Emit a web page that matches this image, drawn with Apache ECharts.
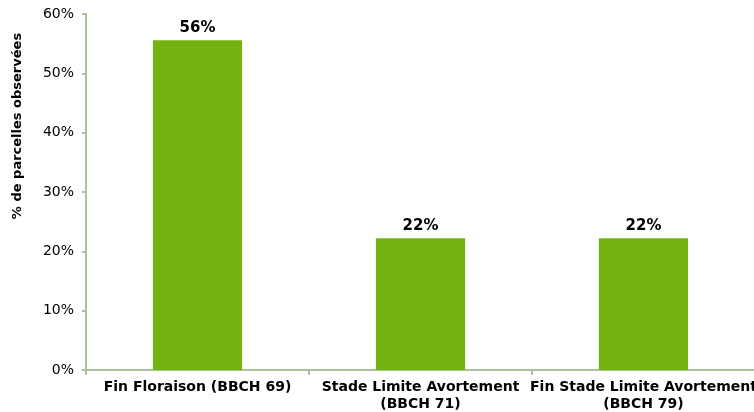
<!DOCTYPE html>
<html><head><meta charset="utf-8">
<script src="https://cdn.jsdelivr.net/npm/echarts@6/dist/echarts.min.js"></script>
<style>html,body{margin:0;padding:0;background:#fff}#c{width:754px;height:412px}</style>
</head><body><div id="c"></div>
<script>
const categories = ['Fin Floraison (BBCH 69)', 'Stade Limite Avortement\n(BBCH 71)', 'Fin Stade Limite Avortement\n(BBCH 79)'];
const values = [55.56, 22.22, 22.22];
const yTicks = [0, 10, 20, 30, 40, 50, 60];
const yName = '% de parcelles observées';
const font = 'Verdana, "DejaVu Sans", sans-serif';
const chart = echarts.init(document.getElementById('c'));
chart.setOption({
  animation: false,
  grid: {left: 86, right: -1, top: 14, bottom: 42, containLabel: false, outerBoundsMode: 'none'},
  xAxis: {
    type: 'category', data: categories,
    axisLine: {lineStyle: {color: '#A9C49A', width: 2}},
    axisTick: {show: true, alignWithLabel: false, length: 5, lineStyle: {color: '#A9C49A', width: 2}},
    axisLabel: {color: '#000', fontFamily: font, fontWeight: 'bold', fontSize: 14, lineHeight: 17, margin: 9, interval: 0}
  },
  yAxis: {
    type: 'value', min: yTicks[0], max: yTicks[yTicks.length-1], interval: 10,
    axisLine: {show: true, lineStyle: {color: '#A9C49A', width: 2}},
    axisTick: {show: true, length: 4, lineStyle: {color: '#A9C49A', width: 2}},
    splitLine: {show: false},
    axisLabel: {color: '#000', fontFamily: font, fontSize: 14, margin: 12, formatter: v => v + '%'}
  },
  graphic: [{
    type: 'text', x: 18, y: 126, rotation: Math.PI/2,
    style: {text: yName, fill: '#000', font: 'bold 13px ' + font, align: 'center', verticalAlign: 'middle'}
  }],
  series: [{
    type: 'bar', data: values, barWidth: '40%',
    itemStyle: {color: '#72B312'},
    label: {show: true, position: 'top', distance: 5, color: '#000', fontFamily: font, fontWeight: 'bold', fontSize: 15,
      formatter: p => Math.round(p.value) + '%'}
  }]
});
</script></body></html>
